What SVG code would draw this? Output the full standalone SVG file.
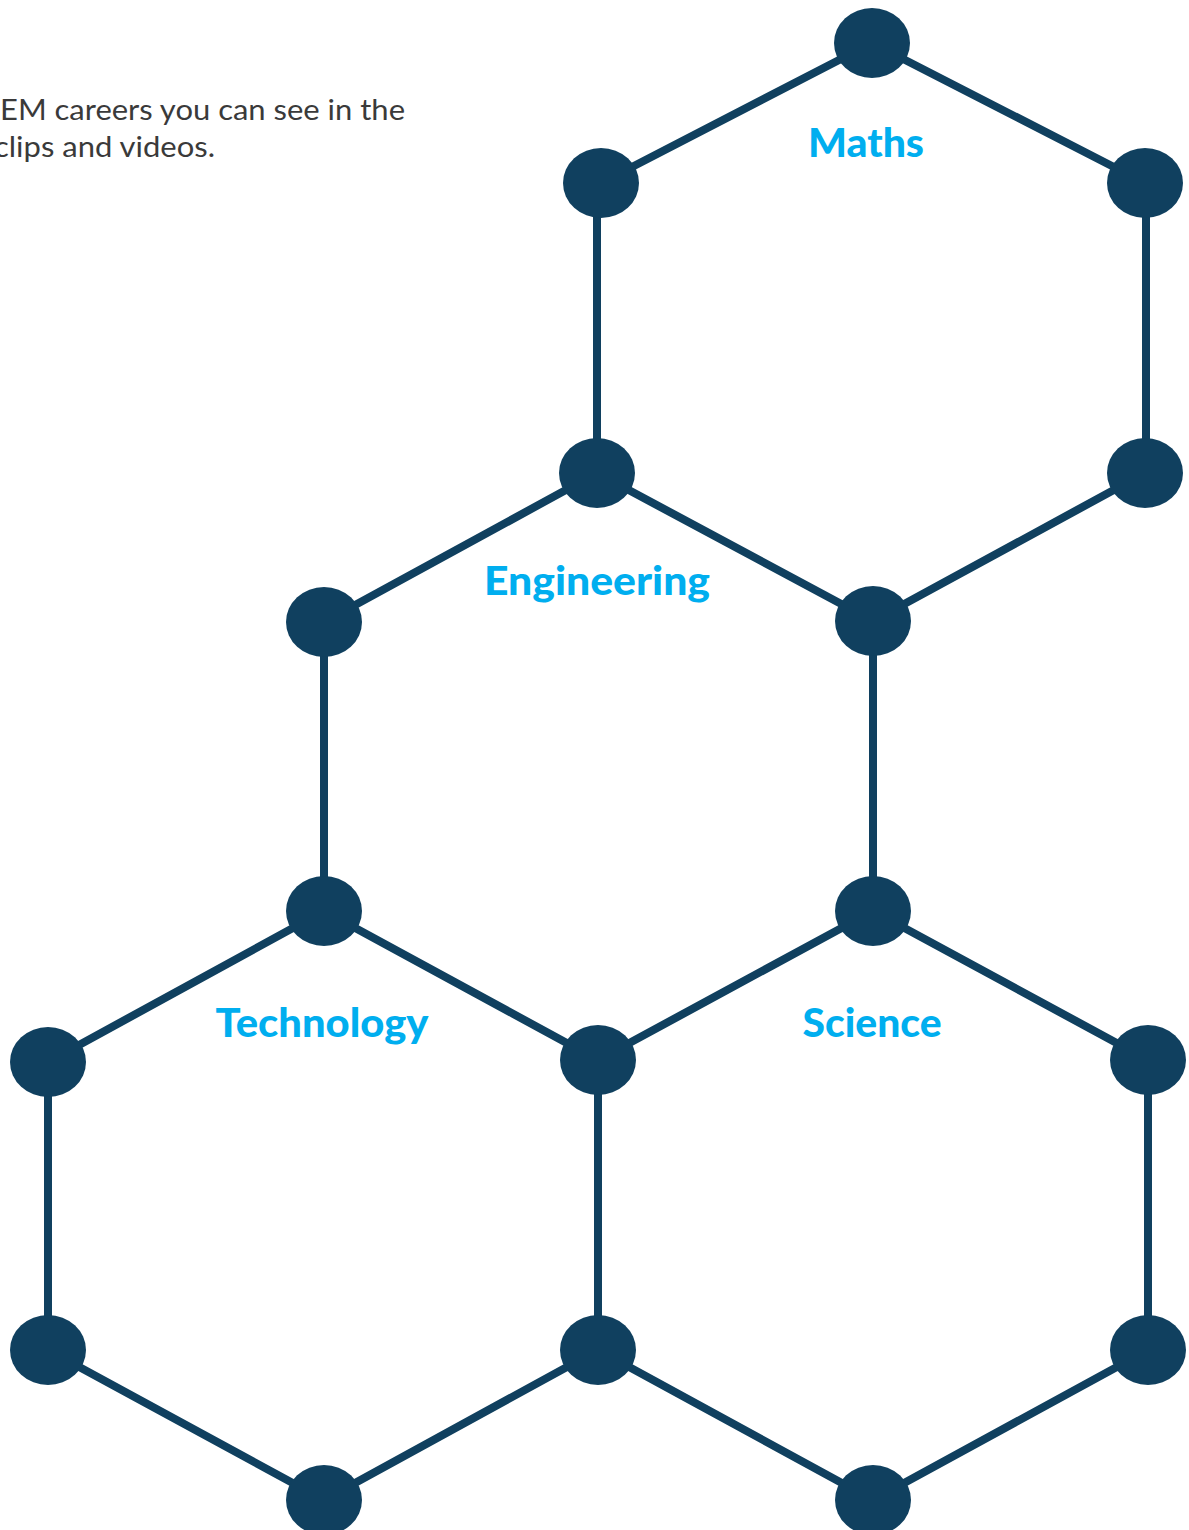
<svg xmlns="http://www.w3.org/2000/svg" width="1189" height="1530" viewBox="0 0 1189 1530">
<style>
.e{stroke:#10405f;stroke-width:8;fill:none;stroke-linecap:round}
.n{fill:#10405f}
.lbl{font-family:"Lato","Open Sans",sans-serif;font-weight:900;fill:#00aeef;font-size:40px;text-anchor:middle}
.intro{font-family:"Lato","Liberation Sans",sans-serif;fill:#3a3a3a;font-size:29px}
</style>
<rect width="1189" height="1530" fill="#ffffff"/>
<g id="intro">
<text class="intro" x="0" y="120" textLength="405" lengthAdjust="spacingAndGlyphs">EM careers you can see in the</text>
<text class="intro" x="-6" y="157" textLength="221" lengthAdjust="spacingAndGlyphs">clips and videos.</text>
</g>
<g id="connectors">
<line class="e" x1="872" y1="43" x2="601" y2="183"/>
<line class="e" x1="872" y1="43" x2="1145" y2="183"/>
<line class="e" x1="597" y1="183" x2="597" y2="473"/>
<line class="e" x1="1146" y1="183" x2="1146" y2="473"/>
<line class="e" x1="1145" y1="473" x2="873" y2="621"/>
<line class="e" x1="597" y1="473" x2="873" y2="621"/>
<line class="e" x1="597" y1="473" x2="324" y2="622"/>
<line class="e" x1="324" y1="622" x2="324" y2="911"/>
<line class="e" x1="873" y1="621" x2="873" y2="911"/>
<line class="e" x1="324" y1="911" x2="598" y2="1060"/>
<line class="e" x1="873" y1="911" x2="598" y2="1060"/>
<line class="e" x1="324" y1="911" x2="48" y2="1062"/>
<line class="e" x1="48" y1="1062" x2="48" y2="1350"/>
<line class="e" x1="598" y1="1060" x2="598" y2="1350"/>
<line class="e" x1="48" y1="1350" x2="324" y2="1500"/>
<line class="e" x1="598" y1="1350" x2="324" y2="1500"/>
<line class="e" x1="873" y1="911" x2="1148" y2="1060"/>
<line class="e" x1="1148" y1="1060" x2="1148" y2="1350"/>
<line class="e" x1="598" y1="1350" x2="873" y2="1500"/>
<line class="e" x1="1148" y1="1350" x2="873" y2="1500"/>
</g>
<g id="nodes">
<ellipse class="n" cx="872" cy="43" rx="38" ry="35"/>
<ellipse class="n" cx="601" cy="183" rx="38" ry="35"/>
<ellipse class="n" cx="1145" cy="183" rx="38" ry="35"/>
<ellipse class="n" cx="597" cy="473" rx="38" ry="35"/>
<ellipse class="n" cx="1145" cy="473" rx="38" ry="35"/>
<ellipse class="n" cx="873" cy="621" rx="38" ry="35"/>
<ellipse class="n" cx="324" cy="622" rx="38" ry="35"/>
<ellipse class="n" cx="324" cy="911" rx="38" ry="35"/>
<ellipse class="n" cx="873" cy="911" rx="38" ry="35"/>
<ellipse class="n" cx="598" cy="1060" rx="38" ry="35"/>
<ellipse class="n" cx="48" cy="1062" rx="38" ry="35"/>
<ellipse class="n" cx="1148" cy="1060" rx="38" ry="35"/>
<ellipse class="n" cx="48" cy="1350" rx="38" ry="35"/>
<ellipse class="n" cx="598" cy="1350" rx="38" ry="35"/>
<ellipse class="n" cx="1148" cy="1350" rx="38" ry="35"/>
<ellipse class="n" cx="324" cy="1500" rx="38" ry="35"/>
<ellipse class="n" cx="873" cy="1500" rx="38" ry="35"/>
</g>
<g id="label-maths"><text class="lbl" x="866" y="157" textLength="116" lengthAdjust="spacingAndGlyphs">Maths</text></g>
<g id="label-engineering"><text class="lbl" x="597" y="595" textLength="226" lengthAdjust="spacingAndGlyphs">Engineering</text></g>
<g id="label-technology"><text class="lbl" x="322" y="1037" textLength="213" lengthAdjust="spacingAndGlyphs">Technology</text></g>
<g id="label-science"><text class="lbl" x="872" y="1037" textLength="139" lengthAdjust="spacingAndGlyphs">Science</text></g>
</svg>
